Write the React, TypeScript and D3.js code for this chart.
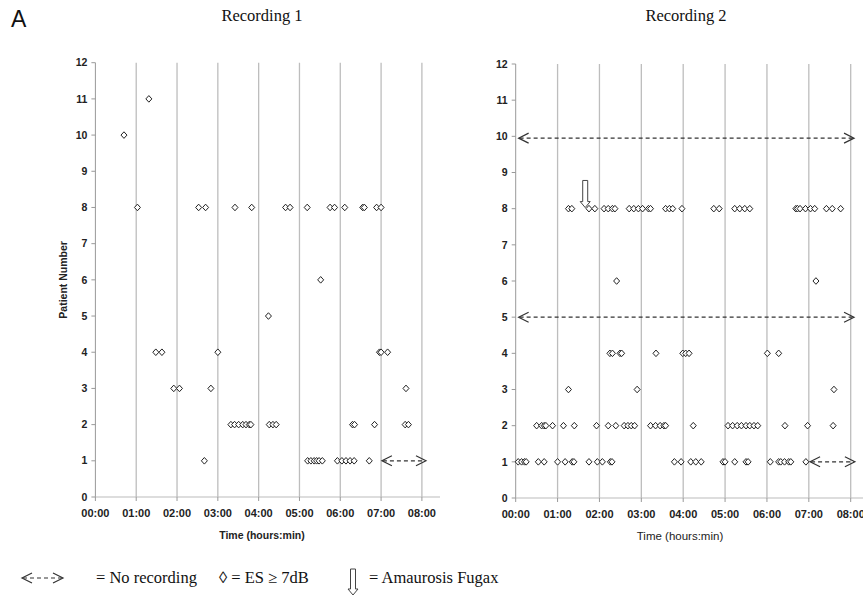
import React from "react";
import * as d3 from "d3";

// ---------- data ----------
const hourTicks = [0, 1, 2, 3, 4, 5, 6, 7, 8];
const hourTickLabels = ["00:00", "01:00", "02:00", "03:00", "04:00", "05:00", "06:00", "07:00", "08:00"];
const patientTicks = [0, 1, 2, 3, 4, 5, 6, 7, 8, 9, 10, 11, 12];

// [time in hours, patient number]
const rec1Events: [number, number][] = [
  [0.70, 10],
  [1.31, 11],
  [1.03, 8], [2.53, 8], [2.70, 8], [3.42, 8], [3.83, 8], [4.66, 8], [4.77, 8], [5.19, 8],
  [5.75, 8], [5.86, 8], [6.11, 8], [6.55, 8], [6.59, 8], [6.89, 8], [7.0, 8],
  [5.52, 6],
  [4.24, 5],
  [1.48, 4], [1.63, 4], [3.0, 4], [6.96, 4], [7.0, 4], [7.16, 4],
  [1.92, 3], [2.06, 3], [2.83, 3], [7.61, 3],
  [3.32, 2], [3.41, 2], [3.51, 2], [3.61, 2], [3.69, 2], [3.77, 2], [3.81, 2],
  [4.26, 2], [4.35, 2], [4.43, 2], [6.30, 2], [6.35, 2], [6.84, 2], [7.59, 2], [7.67, 2],
  [2.67, 1], [5.20, 1], [5.28, 1], [5.36, 1], [5.42, 1], [5.48, 1], [5.56, 1],
  [5.93, 1], [6.04, 1], [6.14, 1], [6.24, 1], [6.34, 1], [6.71, 1],
];

const rec2Events: [number, number][] = [
  [1.26, 8], [1.34, 8], [1.75, 8], [1.89, 8], [2.11, 8], [2.21, 8], [2.31, 8], [2.37, 8],
  [2.71, 8], [2.82, 8], [2.93, 8], [3.03, 8], [3.17, 8], [3.22, 8], [3.58, 8], [3.67, 8],
  [3.75, 8], [3.97, 8], [4.73, 8], [4.86, 8], [5.23, 8], [5.35, 8], [5.47, 8], [5.59, 8],
  [6.69, 8], [6.73, 8], [6.79, 8], [6.92, 8], [7.04, 8], [7.14, 8], [7.42, 8], [7.56, 8], [7.76, 8],
  [2.41, 6], [7.17, 6],
  [2.25, 4], [2.31, 4], [2.49, 4], [2.53, 4], [3.35, 4], [3.99, 4], [4.06, 4], [4.14, 4], [6.01, 4], [6.28, 4],
  [1.26, 3], [2.90, 3], [7.60, 3],
  [0.50, 2], [0.62, 2], [0.68, 2], [0.72, 2], [0.88, 2], [1.14, 2], [1.40, 2], [1.93, 2],
  [2.21, 2], [2.39, 2], [2.59, 2], [2.68, 2], [2.76, 2], [2.84, 2], [3.22, 2], [3.34, 2],
  [3.45, 2], [3.54, 2], [3.58, 2], [4.24, 2], [5.07, 2], [5.18, 2], [5.29, 2], [5.39, 2],
  [5.50, 2], [5.59, 2], [5.69, 2], [5.78, 2], [6.43, 2], [6.97, 2], [7.58, 2],
  [0.06, 1], [0.14, 1], [0.21, 1], [0.25, 1], [0.54, 1], [0.68, 1], [1.0, 1], [1.18, 1],
  [1.35, 1], [1.39, 1], [1.75, 1], [1.95, 1], [2.07, 1], [2.26, 1], [2.30, 1], [3.79, 1],
  [3.95, 1], [4.18, 1], [4.30, 1], [4.43, 1], [4.95, 1], [5.0, 1], [5.23, 1], [5.50, 1],
  [5.55, 1], [6.08, 1], [6.28, 1], [6.33, 1], [6.42, 1], [6.52, 1], [6.57, 1], [6.93, 1],
];

// no-recording spans: [patient, start hour, end hour]
const rec1NoRecording: [number, number, number][] = [[1, 7.02, 8.1]];
const rec2NoRecording: [number, number, number][] = [
  [9.95, 0.07, 8.08],
  [5, 0.07, 8.08],
  [1, 7.03, 8.1],
];
// amaurosis fugax: [time, patient]
const rec2Amaurosis: [number, number][] = [[1.66, 8]];

const FONT_SANS = "'Liberation Sans', Arial, sans-serif";
const FONT_SERIF = "'Liberation Serif', 'Times New Roman', serif";

const diamondPath = "M0,-3.3L3,0L0,3.3L-3,0Z";

function DashedArrow({ x1, x2, y }: { x1: number; x2: number; y: number }) {
  return (
    <g stroke="#333" fill="none" strokeWidth={1.2}>
      <line x1={x1 + 1} x2={x2 - 1} y1={y} y2={y} strokeDasharray="4 3" />
      <path d={`M${x1 + 10},${y - 5}L${x1},${y}L${x1 + 10},${y + 5}`} />
      <path d={`M${x2 - 10},${y - 5}L${x2},${y}L${x2 - 10},${y + 5}`} />
    </g>
  );
}

function HollowArrow({ x, yTop, yTip }: { x: number; yTop: number; yTip: number }) {
  const h = yTip - yTop;
  const headH = Math.min(6, h * 0.25);
  const yNeck = yTip - headH;
  const d = `M${x - 2.5},${yTop}L${x + 2.5},${yTop}L${x + 2.5},${yNeck}L${x + 5},${yNeck}L${x},${yTip}L${x - 5},${yNeck}L${x - 2.5},${yNeck}Z`;
  return <path d={d} fill="#fff" stroke="#444" strokeWidth={1} />;
}

type PanelProps = {
  title: string;
  titleX: number;
  xRange: [number, number];
  yRange: [number, number];
  axisEnd: number;
  events: [number, number][];
  noRec: [number, number, number][];
  amaurosis?: [number, number][];
  yTitle?: boolean;
  xTitleBold: boolean;
  xTitleX: number;
  xTitleSize: number;
};

function Panel(p: PanelProps) {
  const x = d3.scaleLinear().domain([0, 8]).range(p.xRange);
  const y = d3.scaleLinear().domain([0, 12]).range(p.yRange);
  const x0 = x(0);
  const y0 = y(0);
  return (
    <g>
      <text x={p.titleX} y={21} textAnchor="middle" fontFamily={FONT_SERIF} fontSize={16.5} fill="#111">
        {p.title}
      </text>
      {hourTicks.filter((h) => h > 0).map((h) => (
        <line key={"g" + h} x1={x(h)} x2={x(h)} y1={y(0)} y2={y(12)} stroke="#bdbdbd" strokeWidth={1.3} />
      ))}
      <line x1={x0} x2={x0} y1={y(0)} y2={y(12)} stroke="#999" strokeWidth={1} />
      <line x1={x0} x2={p.axisEnd} y1={y0} y2={y0} stroke="#bbb" strokeWidth={1} />
      {patientTicks.map((t) => (
        <g key={"y" + t}>
          <line x1={x0 - 4} x2={x0} y1={y(t)} y2={y(t)} stroke="#999" />
          <text
            x={x0 - 8}
            y={y(t)}
            dy="0.35em"
            textAnchor="end"
            fontFamily={FONT_SANS}
            fontWeight="bold"
            fontSize={10.5}
            fill="#222"
          >
            {t}
          </text>
        </g>
      ))}
      {hourTicks.map((h, i) => (
        <g key={"x" + h}>
          <line x1={x(h)} x2={x(h)} y1={y0} y2={y0 + 4} stroke="#999" />
          <text
            x={x(h)}
            y={y0 + 20}
            textAnchor="middle"
            fontFamily={FONT_SANS}
            fontWeight="bold"
            fontSize={11}
            fill="#222"
          >
            {hourTickLabels[i]}
          </text>
        </g>
      ))}
      <text
        x={p.xTitleX}
        y={y0 + 42}
        textAnchor="middle"
        fontFamily={FONT_SANS}
        fontWeight={p.xTitleBold ? "bold" : "normal"}
        fontSize={p.xTitleSize}
        fill="#222"
      >
        Time (hours:min)
      </text>
      {p.yTitle && (
        <text
          transform={`translate(${x0 - 32},${(y(0) + y(12)) / 2}) rotate(-90)`}
          textAnchor="middle"
          dy="0.35em"
          fontFamily={FONT_SANS}
          fontWeight="bold"
          fontSize={10.5}
          fill="#222"
        >
          Patient Number
        </text>
      )}
      {p.noRec.map(([pt, s, e], i) => (
        <DashedArrow key={"n" + i} x1={x(s)} x2={x(e)} y={y(pt)} />
      ))}
      {p.events.map(([t, pt], i) => (
        <path
          key={"e" + i}
          d={diamondPath}
          transform={`translate(${x(t)},${y(pt)})`}
          fill="#fff"
          stroke="#222"
          strokeWidth={1}
        />
      ))}
      {(p.amaurosis || []).map(([t, pt], i) => (
        <HollowArrow key={"a" + i} x={x(t)} yTop={y(pt + 0.78)} yTip={y(pt + 0.03)} />
      ))}
    </g>
  );
}

export default function App() {
  return (
    <svg
      width={863}
      height={610}
      viewBox="0 0 863 610"
      style={{ position: "absolute", left: 0, top: 0, background: "#fff" }}
    >
      <rect width={863} height={610} fill="#fff" />
      <text x={11} y={27} fontFamily={FONT_SANS} fontSize={23} fill="#111">
        A
      </text>
      <Panel
        title="Recording 1"
        titleX={262}
        xRange={[95.4, 421.9]}
        yRange={[497, 62.7]}
        axisEnd={440}
        events={rec1Events}
        noRec={rec1NoRecording}
        yTitle
        xTitleBold
        xTitleX={262}
        xTitleSize={10.5}
      />
      <Panel
        title="Recording 2"
        titleX={686}
        xRange={[515.7, 850.7]}
        yRange={[498, 64]}
        axisEnd={870}
        events={rec2Events}
        noRec={rec2NoRecording}
        amaurosis={rec2Amaurosis}
        xTitleBold={false}
        xTitleX={680}
        xTitleSize={11.5}
      />
      <g>
        <DashedArrow x1={22} x2={63} y={578} />
        <text x={96} y={583} fontFamily={FONT_SERIF} fontSize={16.5} fill="#111">
          = No recording
        </text>
        <text x={219} y={583} fontFamily={FONT_SERIF} fontSize={16.5} fill="#111">
          ◊ = ES ≥ 7dB
        </text>
        <HollowArrow x={353} yTop={569} yTip={595} />
        <text x={369} y={583} fontFamily={FONT_SERIF} fontSize={16.5} fill="#111">
          = Amaurosis Fugax
        </text>
      </g>
    </svg>
  );
}
